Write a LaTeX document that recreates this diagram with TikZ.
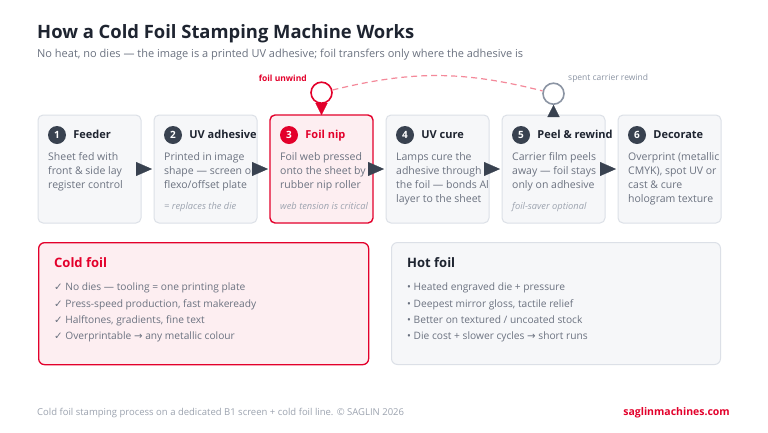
\documentclass[tikz,border=0pt]{standalone}
\usepackage{fontspec}
\setmainfont{Open Sans}
\newfontfamily\symfont{DejaVu Sans}
\usetikzlibrary{positioning,arrows.meta}

\definecolor{ink}{HTML}{1E2430}
\definecolor{slate}{HTML}{394250}
\definecolor{muted}{HTML}{6B7280}
\definecolor{faint}{HTML}{9CA3AF}
\definecolor{foilred}{HTML}{E3002B}
\definecolor{pinkfill}{HTML}{FDEEF1}
\definecolor{cardfill}{HTML}{F6F7F9}
\definecolor{cardline}{HTML}{DCE0E7}
\definecolor{dashpink}{HTML}{F4899A}
\definecolor{ringgray}{HTML}{8B94A3}

\newcommand{\chk}{{\symfont\char"2713}}
\newcommand{\rarr}{{\symfont\char"2192}}

\tikzset{
  card/.style={draw=cardline, fill=cardfill, line width=1pt, rounded corners=5pt,
    minimum width=103pt, minimum height=108pt, anchor=north west, inner sep=0pt, outer sep=0pt},
  hot/.style={draw=foilred, fill=pinkfill, line width=1.4pt},
  badge/.style={circle, fill=slate, text=white, minimum size=18pt, inner sep=0pt,
    font=\bfseries\fontsize{10}{12}\selectfont},
  head/.style={inner sep=0pt, text=ink, text height=8.5pt, text depth=2.5pt,
    font=\bfseries\fontsize{11}{14}\selectfont},
  body/.style={anchor=north west, align=left, inner sep=0pt, text=muted,
    font=\fontsize{10.5}{14}\selectfont},
  note/.style={anchor=base west, inner sep=0pt, text=faint,
    font=\itshape\fontsize{9.3}{11}\selectfont},
  flow/.style={-{Triangle[length=16pt,width=14pt]}, slate, line width=0.2pt, shorten >=2pt},
  feed/.style={-{Triangle[length=12pt,width=12pt]}, line width=0.2pt},
  reel/.style={circle, fill=white, line width=1.6pt, minimum size=21pt, inner sep=0pt},
  carrier/.style={dashpink, line width=1.2pt, dash pattern=on 6pt off 4pt},
  tag/.style={inner sep=0pt, font=\fontsize{8.5}{10}\selectfont},
  panel/.style={draw=cardline, fill=cardfill, line width=1pt, rounded corners=6pt,
    minimum height=122pt, anchor=north west, inner sep=0pt},
  paneltitle/.style={anchor=base west, inner sep=0pt, font=\bfseries\fontsize{13}{16}\selectfont},
  list/.style={anchor=north west, align=left, inner sep=0pt, text=muted,
    font=\fontsize{10.2}{16.3}\selectfont}
}

\begin{document}
\begin{tikzpicture}[x=1pt,y=-1pt]
\useasboundingbox[fill=white] (0,0) rectangle (768,432);

% heading
\node[anchor=base west, inner sep=0pt, text=ink, font=\bfseries\fontsize{18.4}{22}\selectfont] (title) at (37,38) {How a Cold Foil Stamping Machine Works};
\node[anchor=base west, inner sep=0pt, text=muted, font=\fontsize{11}{14}\selectfont] (subtitle) at (37,57) {No heat, no dies — the image is a printed UV adhesive; foil transfers only where the adhesive is};

% process cards
\node[card] (b1) at (38,115) {};
\node[card, right=13pt of b1] (b2) {};
\node[card, hot, right=13pt of b2] (b3) {};
\node[card, right=13pt of b3] (b4) {};
\node[card, right=13pt of b4] (b5) {};
\node[card, right=13pt of b5] (b6) {};

\node[badge] (n1) at ([xshift=19pt,yshift=-20pt]b1.north west) {1};
\node[head, right=7pt of n1] (h1) {Feeder};
\node[body] (t1) at ([xshift=10pt,yshift=-37pt]b1.north west) {Sheet fed with\\front \& side lay\\register control};

\node[badge] (n2) at ([xshift=19pt,yshift=-20pt]b2.north west) {2};
\node[head, right=7pt of n2] (h2) {UV adhesive};
\node[body] (t2) at ([xshift=10pt,yshift=-37pt]b2.north west) {Printed in image\\shape — screen or\\flexo/offset plate};
\node[note] (m2) at ([xshift=10pt,yshift=-94pt]b2.north west) {= replaces the die};

\node[badge, fill=foilred] (n3) at ([xshift=19pt,yshift=-20pt]b3.north west) {3};
\node[head, text=foilred, right=7pt of n3] (h3) {Foil nip};
\node[body] (t3) at ([xshift=10pt,yshift=-37pt]b3.north west) {Foil web pressed\\onto the sheet by\\rubber nip roller};
\node[note] (m3) at ([xshift=10pt,yshift=-94pt]b3.north west) {web tension is critical};

\node[badge] (n4) at ([xshift=19pt,yshift=-20pt]b4.north west) {4};
\node[head, right=7pt of n4] (h4) {UV cure};
\node[body] (t4) at ([xshift=10pt,yshift=-37pt]b4.north west) {Lamps cure the\\adhesive through\\the foil — bonds Al\\layer to the sheet};

\node[badge] (n5) at ([xshift=19pt,yshift=-20pt]b5.north west) {5};
\node[head, right=7pt of n5] (h5) {Peel \& rewind};
\node[body] (t5) at ([xshift=10pt,yshift=-37pt]b5.north west) {Carrier film peels\\away — foil stays\\only on adhesive};
\node[note] (m5) at ([xshift=10pt,yshift=-94pt]b5.north west) {foil-saver optional};

\node[badge] (n6) at ([xshift=19pt,yshift=-20pt]b6.north west) {6};
\node[head, right=7pt of n6] (h6) {Decorate};
\node[body] (t6) at ([xshift=10pt,yshift=-37pt]b6.north west) {Overprint (metallic\\CMYK), spot UV or\\cast \& cure\\hologram texture};

% flow between steps
\draw[flow] (b1.east) -- (b2.west);
\draw[flow] (b2.east) -- (b3.west);
\draw[flow] (b3.east) -- (b4.west);
\draw[flow] (b4.east) -- (b5.west);
\draw[flow] (b5.east) -- (b6.west);

% foil web over the line
\node[reel, draw=foilred, above=11pt of b3] (unwind) {};
\node[reel, draw=ringgray, above=10pt of b5] (rewind) {};
\draw[carrier] (unwind) to[bend left=14] (rewind);
\draw[feed, foilred] (unwind.south) -- (b3.north);
\draw[feed, slate] (b5.north) -- (rewind.south);
\node[tag, anchor=east, text=foilred, font=\bfseries\fontsize{8.5}{10}\selectfont] (unwindtag) at (307,78) {foil unwind};
\node[tag, anchor=west, text=ringgray] (rewindtag) at (568,78) {spent carrier rewind};

% comparison panels
\node[panel, draw=foilred, fill=pinkfill, line width=1.3pt, minimum width=330pt] (cold) at (38,242) {};
\node[panel, minimum width=329pt] (hotp) at (391,242) {};
\node[paneltitle, text=foilred] (coldt) at ([xshift=16pt,yshift=-25pt]cold.north west) {Cold foil};
\node[list] (coldl) at ([xshift=16pt,yshift=-41pt]cold.north west) {\chk\ No dies — tooling = one printing plate\\\chk\ Press-speed production, fast makeready\\\chk\ Halftones, gradients, fine text\\\chk\ Overprintable \rarr\ any metallic colour};
\node[paneltitle, text=ink] (hott) at ([xshift=16pt,yshift=-25pt]hotp.north west) {Hot foil};
\node[list] (hotl) at ([xshift=16pt,yshift=-41pt]hotp.north west) {• Heated engraved die + pressure\\• Deepest mirror gloss, tactile relief\\• Better on textured / uncoated stock\\• Die cost + slower cycles \rarr\ short runs};

% footer
\node[anchor=base west, inner sep=0pt, text=faint, font=\fontsize{9.5}{11}\selectfont] (foot) at (37,415) {Cold foil stamping process on a dedicated B1 screen + cold foil line. © SAGLIN 2026};
\node[anchor=base east, inner sep=0pt, text=foilred, font=\bfseries\fontsize{10.5}{12}\selectfont] (site) at (730,415) {saglinmachines.com};
\end{tikzpicture}
\end{document}
